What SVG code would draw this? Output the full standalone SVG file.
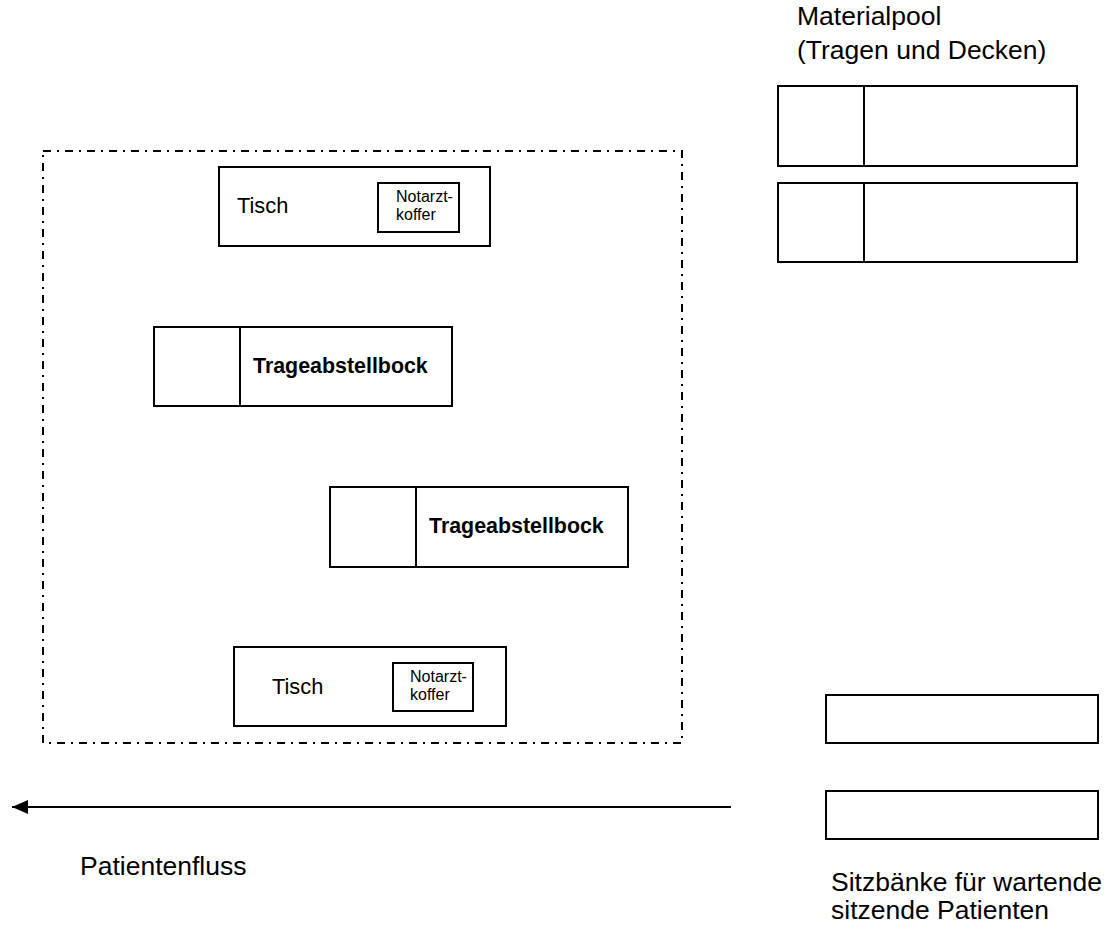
<svg xmlns="http://www.w3.org/2000/svg" width="1107" height="926" viewBox="0 0 1107 926">
  <style>
    text { font-family: "Liberation Sans", Arial, sans-serif; fill: #000; }
    .box { fill: #fff; stroke: #000; stroke-width: 2; }
    .zone { fill: none; stroke: #000; stroke-width: 2; stroke-dasharray: 8 6 2 6; }
    .lbl { font-size: 21.8px; }
    .small { font-size: 16px; }
    .bold { font-size: 21.4px; font-weight: bold; }
    .cap { font-size: 26.5px; }
    .flow { stroke: #000; stroke-width: 2; fill: none; }
  </style>
  <defs>
    <marker id="head" markerWidth="16" markerHeight="14" refX="16" refY="7" orient="auto" markerUnits="userSpaceOnUse">
      <path d="M0,0 L16,7 L0,14 Z" fill="#000"/>
    </marker>
  </defs>

  <rect x="0" y="0" width="1107" height="926" fill="#fff"/>

  <!-- treatment area, dash-dot outline -->
  <g id="area">
    <rect class="zone" x="43" y="151" width="639" height="592"/>
  </g>

  <g id="tisch-1">
    <rect class="box" x="219" y="167" width="271" height="79"/>
    <text class="lbl" x="237" y="213">Tisch</text>
  </g>
  <g id="notarztkoffer-1">
    <rect class="box" x="378" y="183" width="81" height="49"/>
    <text class="small" x="396" y="202">Notarzt-</text>
    <text class="small" x="396" y="220">koffer</text>
  </g>

  <g id="trageabstellbock-1">
    <rect class="box" x="154" y="327" width="298" height="79"/>
    <line x1="240" y1="327" x2="240" y2="406" stroke="#000" stroke-width="2"/>
    <text class="bold" x="253" y="373">Trageabstellbock</text>
  </g>

  <g id="trageabstellbock-2">
    <rect class="box" x="330" y="487" width="298" height="80"/>
    <line x1="416" y1="487" x2="416" y2="567" stroke="#000" stroke-width="2"/>
    <text class="bold" x="429" y="533">Trageabstellbock</text>
  </g>

  <g id="tisch-2">
    <rect class="box" x="234" y="647" width="272" height="79"/>
    <text class="lbl" x="272" y="694">Tisch</text>
  </g>
  <g id="notarztkoffer-2">
    <rect class="box" x="393" y="663" width="80" height="48"/>
    <text class="small" x="410" y="682">Notarzt-</text>
    <text class="small" x="410" y="700">koffer</text>
  </g>

  <!-- material pool: stretchers and blankets -->
  <g id="materialpool">
    <text class="cap" x="797" y="25">Materialpool</text>
    <text class="cap" x="797" y="59">(Tragen und Decken)</text>
  </g>
  <g id="trage-1">
    <rect class="box" x="778" y="86" width="299" height="80"/>
    <line x1="864" y1="86" x2="864" y2="166" stroke="#000" stroke-width="2"/>
  </g>
  <g id="trage-2">
    <rect class="box" x="778" y="183" width="299" height="79"/>
    <line x1="864" y1="183" x2="864" y2="262" stroke="#000" stroke-width="2"/>
  </g>

  <!-- benches -->
  <g id="sitzbank-1">
    <rect class="box" x="826" y="695" width="272" height="48"/>
  </g>
  <g id="sitzbank-2">
    <rect class="box" x="826" y="791" width="272" height="48"/>
  </g>
  <g id="sitzbaenke-label">
    <text class="cap" x="831" y="891">Sitzbänke für wartende</text>
    <text class="cap" x="831" y="919">sitzende Patienten</text>
  </g>

  <!-- patient flow -->
  <g id="connectors">
    <line class="flow" x1="731" y1="807" x2="12" y2="807" marker-end="url(#head)"/>
  </g>
  <g id="patientenfluss-label">
    <text class="cap" x="80" y="875">Patientenfluss</text>
  </g>
</svg>
